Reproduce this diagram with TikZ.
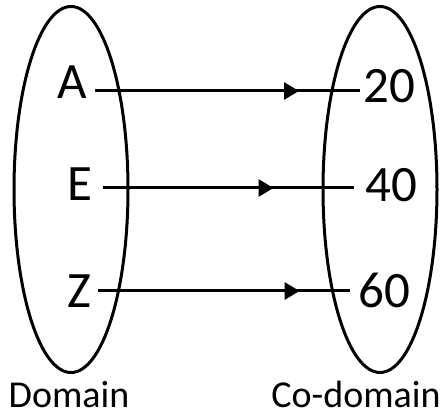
\documentclass[tikz,border=0pt]{standalone}
\usepackage{fontspec}
\setmainfont{Carlito}
\usetikzlibrary{arrows.meta,decorations.markings}

\begin{document}
\begin{tikzpicture}[x=1pt,y=-1pt]
        \tikzset{set/.style={draw,line width=3pt},
            elem/.style={anchor=base,inner sep=0pt,font=\fontsize{51}{51}\selectfont},
            caption/.style={anchor=base,inner sep=0pt,font=\fontsize{38}{38}\selectfont},
            maps/.style={line width=3pt,postaction={decorate},
                decoration={markings,mark=at position #1 with
                    {\arrow{Triangle[length=15pt,width=17pt]}}}}}
        \useasboundingbox (0,0) rectangle (442,419);
        % the two sets
        \draw[set] (71,189.5) ellipse [x radius=57,y radius=183];
        \draw[set] (380,189.5) ellipse [x radius=57,y radius=183];
        % elements
        \node[elem] (A) at (72,99) {A};
        \node[elem] (E) at (80,201) {E};
        \node[elem] (Z) at (79,308) {Z};
        \node[elem] (n20) at (389,103) {20};
        \node[elem] (n40) at (391,202) {40};
        \node[elem] (n60) at (384,308) {60};
        \node[caption] (dom) at (69,408) {Domain};
        \node[caption] (codom) at (356,408) {Co-domain};
        % the mapping
        \draw[maps=0.77] ([xshift=8pt,yshift=8pt]A.base east) -- ([xshift=-3pt,yshift=12pt]n20.base west);
        \draw[maps=0.68] ([xshift=10pt,yshift=13pt]E.base east) -- ([xshift=-11pt,yshift=14pt]n40.base west);
        \draw[maps=0.80] ([xshift=7pt,yshift=17pt]Z.base east) -- ([xshift=-8pt,yshift=17pt]n60.base west);
\end{tikzpicture}
\end{document}
